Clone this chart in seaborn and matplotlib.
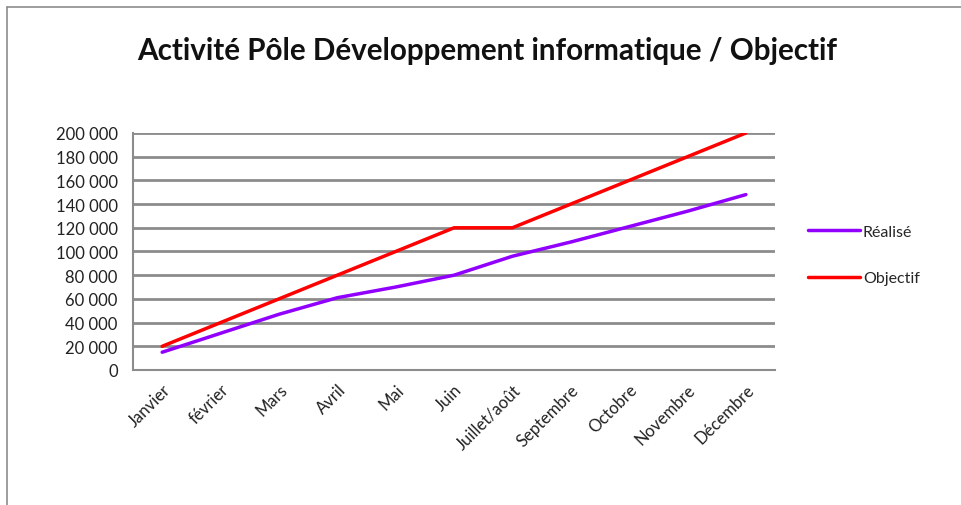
import numpy as np
import pandas as pd
import matplotlib
matplotlib.use('Agg')
import matplotlib.pyplot as plt
from matplotlib.lines import Line2D
import seaborn as sns

# data
mois = ['Janvier', 'février', 'Mars', 'Avril', 'Mai', 'Juin', 'Juillet/août',
        'Septembre', 'Octobre', 'Novembre', 'Décembre']
realise = [15000, 31000, 47000, 61000, 70000, 80000, 96000, 108000, 121000, 134000, 148000]
objectif = [20000, 40000, 60000, 80000, 100000, 120000, 120000, 140000, 160000, 180000, 200000]
y_ticks = list(range(0, 200001, 20000))

df = pd.DataFrame({'pos': list(range(len(mois))) * 2,
                   'valeur': realise + objectif,
                   'serie': ['Réalisé'] * len(mois) + ['Objectif'] * len(mois)})

sns.set_style('white')
plt.rcParams['font.family'] = ['Lato', 'DejaVu Sans']

fig = plt.figure(figsize=(9.61, 5.06), dpi=100)
ax = fig.add_axes([0.1384, 0.2668, 0.6681, 0.4684])

sns.lineplot(data=df, x='pos', y='valeur', hue='serie',
             palette={'Réalisé': '#9100FF', 'Objectif': '#FF0000'},
             linewidth=2.5, ax=ax, legend=False)

ax.set_ylim(0, 200000)
ax.set_yticks(y_ticks)
ax.set_yticklabels([f'{v:,}'.replace(',', ' ') for v in y_ticks], fontsize=12, color='#222222')
ax.yaxis.grid(True, color='#8c8c8c', linewidth=2)
ax.set_axisbelow(True)

ax.set_xlim(-0.5, len(mois) - 0.5)
ax.set_xticks(np.arange(-0.5, len(mois), 1.0))
ax.set_xticklabels([])
ax.set_xticks(range(len(mois)), minor=True)
ax.set_xticklabels(mois, minor=True, rotation=45, ha='right', rotation_mode='anchor',
                   fontsize=12, color='#222222')
ax.tick_params(axis='x', which='minor', length=0, pad=8)
ax.tick_params(axis='both', which='major', length=5, width=1.5, color='#8c8c8c', direction='out')
ax.tick_params(axis='y', pad=6)
ax.set_xlabel('')
ax.set_ylabel('')

for side in ['top', 'right']:
    ax.spines[side].set_visible(False)
for side in ['left', 'bottom']:
    ax.spines[side].set_color('#8c8c8c')
    ax.spines[side].set_linewidth(1.5)

fig.text(0.507, 0.899, 'Activité Pôle Développement informatique / Objectif',
         ha='center', va='center', fontsize=21.3, fontweight='bold', color='#111111')

handles = [Line2D([], [], color='#9100FF', linewidth=2.5),
           Line2D([], [], color='#FF0000', linewidth=2.5)]
fig.legend(handles, ['Réalisé', 'Objectif'], loc='center left',
           bbox_to_anchor=(0.828, 0.494), frameon=False, fontsize=11.5,
           handlelength=3.25, handletextpad=0.15, labelspacing=2.0,
           borderpad=0.3)

# outer chart frame (left and top edges visible)
fig.add_artist(Line2D([0.0073, 0.0073], [0, 0.984], color='#8c8c8c', linewidth=1.2))
fig.add_artist(Line2D([0.0073, 1.0], [0.984, 0.984], color='#8c8c8c', linewidth=1.2))

fig.savefig('out.png', dpi=100)
